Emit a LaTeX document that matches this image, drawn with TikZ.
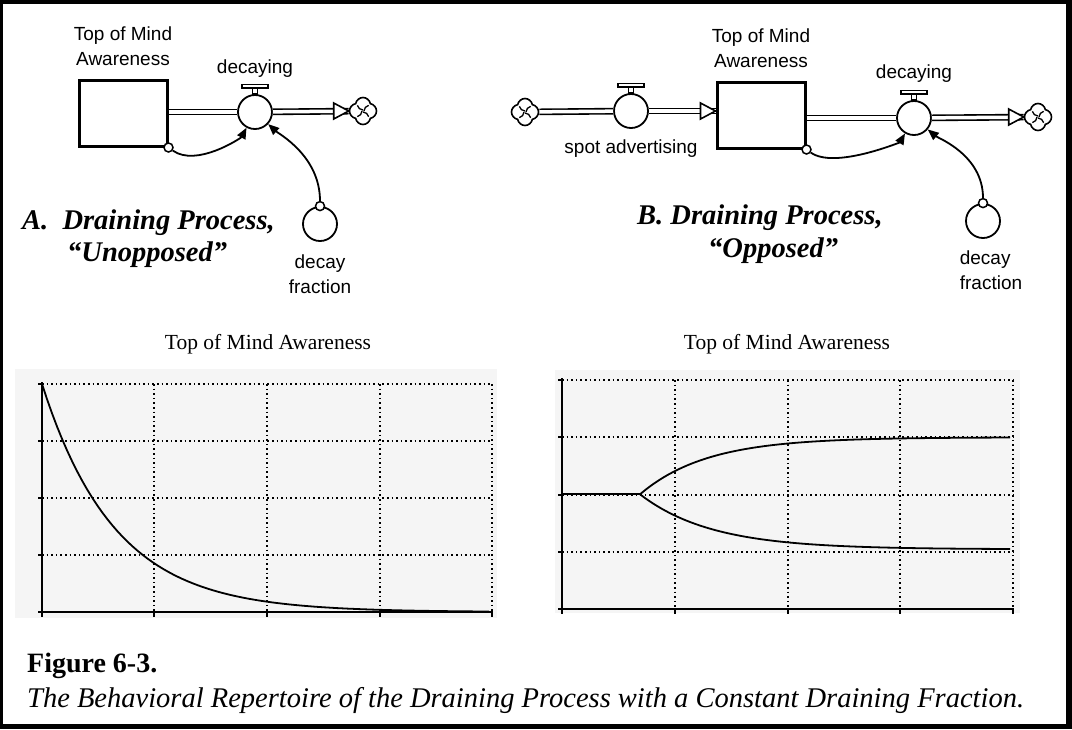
\documentclass[tikz,border=0pt]{standalone}
\usepackage{fontspec}
\setmainfont{Liberation Serif}
\newfontfamily\arialfont{Liberation Sans}
\usetikzlibrary{shapes.symbols,arrows.meta,positioning}
\definecolor{plotbg}{RGB}{245,245,245}

\tikzset{
  stock/.style={rectangle, draw, line width=3pt, minimum width=88pt, minimum height=66pt},
  valve/.style={circle, draw, fill=white, line width=1.8pt, minimum size=34pt, inner sep=0pt},
  conv/.style={circle, draw, line width=1.8pt, minimum size=34pt, inner sep=0pt},
  dot/.style={circle, draw, fill=white, line width=1.5pt, minimum size=9pt, inner sep=0pt},
  sink/.style={cloud, cloud puffs=4, cloud puff arc=160, aspect=1, draw, line width=1.6pt, minimum size=27pt, inner sep=0pt},
  pipe/.style={draw, double, double distance=3.5pt, line width=1.6pt},
  link/.style={draw, line width=1.8pt, -{Triangle[length=11pt,width=9pt]}},
  lbl/.style={font=\arialfont\fontsize{19}{25}\selectfont, align=center, inner sep=0pt},
  ttl/.style={font=\fontsize{28.5}{33}\selectfont\bfseries\itshape, inner sep=0pt},
  ptitle/.style={font=\fontsize{21.5}{25}\selectfont, inner sep=0pt},
  grd/.style={line width=1.6pt, dash pattern=on 1.6pt off 3pt},
  ax/.style={line width=2pt}
}

\begin{document}
\begin{tikzpicture}[x=1pt, y=-1pt]
% frame
\fill[black] (0,0) rectangle (1072,729);
\fill[white] (3,4) rectangle (1066,724);

% --- A: unopposed ---
\node (sA) [stock] at (123,113) {};
\node (vA) [valve] at (255,112) {};
\node (cA) [sink] at (363,111) {};
\node (fA) [conv] at (320,224) {};
\node (dA1) [dot] at (sA.south east) {};
\node (dA2) [dot] at (fA.north) {};
\node (sAl) [lbl, above=13pt of sA] {Top of Mind\\Awareness};
\node (vAl) [lbl, above=16pt of vA] {decaying};
\node (fAl) [lbl, below=13pt of fA] {decay\\fraction};

\draw[pipe] (sA.east |- vA) -- (vA);
\draw[pipe] (vA) -- (cA);
\draw[line width=1.6pt, fill=white] (cA.west) -- ++(-15,-8) -- ++(0,16) -- cycle;
\draw[link] (dA1) .. controls +(28,20) and +(-14,26) .. (vA);
\draw[link] (dA2) .. controls +(0,-50) and +(24,22) .. (vA);

\node (tA) [ttl, anchor=base west] at (22,229) {A.\ \ Draining Process,};
\node (tA2) [ttl, anchor=base west] at (67,261) {``Unopposed''};

% --- B: opposed ---
\node (cB1) [sink] at (525,112) {};
\node (vB1) [valve] at (631,111) {};
\node (sB) [stock] at (761,115) {};
\node (vB2) [valve] at (914,118) {};
\node (cB2) [sink] at (1038,117) {};
\node (fB) [conv] at (983,221) {};
\node (dB1) [dot] at (sB.south east) {};
\node (dB2) [dot] at (fB.north) {};
\coordinate (inB) at (sB.west |- vB1);
\node (vB1l) [lbl, below=11pt of vB1] {spot advertising};
\node (sBl) [lbl, above=13pt of sB] {Top of Mind\\Awareness};
\node (vB2l) [lbl, above=17pt of vB2] {decaying};
\node (fBl) [lbl, align=left, below=12pt of fB, xshift=8pt] {decay\\fraction};

\draw[pipe] (cB1) -- (vB1);
\draw[pipe] (vB1) -- (inB);
\draw[line width=1.6pt, fill=white] (inB) -- ++(-15,-8) -- ++(0,16) -- cycle;
\draw[pipe] (sB.east |- vB2) -- (vB2);
\draw[pipe] (vB2) -- (cB2);
\draw[line width=1.6pt, fill=white] (cB2.west) -- ++(-15,-8) -- ++(0,16) -- cycle;
\draw[link] (dB1) .. controls +(28,20) and +(-14,24) .. (vB2);
\draw[link] (dB2) .. controls +(0,-48) and +(24,20) .. (vB2);

\node (tB) [ttl, anchor=base west] at (637,224) {B. Draining Process,};
\node (tB2) [ttl, anchor=base west] at (708,257) {``Opposed''};

% valve handles and cloud swirls
\foreach \v in {vA,vB1,vB2} {
  \draw[line width=1.4pt] ([xshift=-2.5pt]\v.north) rectangle ([xshift=2.5pt,yshift=6pt]\v.north);
  \draw[line width=1.4pt, fill=white] ([xshift=-13pt,yshift=6pt]\v.north) rectangle ([xshift=13pt,yshift=9.5pt]\v.north);
}
\foreach \c in {cA,cB1,cB2}
  \foreach \a in {0,90,180,270}
    \draw[line width=1.3pt] ([shift={(\a:1pt)}]\c.center) to[bend left=35] ([shift={(\a+45:8pt)}]\c.center);

% --- graph A ---
\node (gA) [ptitle] at (268,344) {Top of Mind Awareness};
\fill[plotbg] (15,369) rectangle (497,618);
\foreach \y in {384,441,498,555}
  \draw[grd] (42,\y) -- (492,\y);
\foreach \x in {154,267,380,492}
  \draw[grd] (\x,384) -- (\x,612);
\draw[ax] (42,382) -- (42,612) -- (493,612);
\foreach \y in {384,441,498,555,612}
  \draw[ax] (38,\y) -- (42,\y);
\foreach \x in {42,154,267,380,492}
  \draw[ax] (\x,612) -- (\x,617);
\draw[line width=1.8pt] plot[domain=42:489, samples=90] (\x,{612-228*exp(-1.55*(\x-42)/112.7)});

% --- graph B ---
\node (gB) [ptitle] at (787,344) {Top of Mind Awareness};
\fill[plotbg] (555,370) rectangle (1020,613);
\foreach \y in {380,437,495,552}
  \draw[grd] (562,\y) -- (1013,\y);
\foreach \x in {675,788,900,1013}
  \draw[grd] (\x,380) -- (\x,609);
\draw[ax] (562,378) -- (562,609) -- (1014,609);
\foreach \y in {380,437,495,552,609}
  \draw[ax] (558,\y) -- (562,\y);
\foreach \x in {562,675,788,900,1013}
  \draw[ax] (\x,609) -- (\x,614);
\draw[line width=1.8pt] (562,494.3) -- (640,494.3);
\draw[line width=1.8pt] plot[domain=640:1010, samples=80] (\x,{494.3-57*(1-exp(-0.015*(\x-640)))});
\draw[line width=1.8pt] plot[domain=640:1010, samples=80] (\x,{494.3+55*(1-exp(-0.014*(\x-640)))});

% caption
\node (cap1) [anchor=base west, inner sep=0pt, font=\fontsize{28}{32}\selectfont\bfseries] at (27,672) {Figure 6-3.};
\node (cap2) [anchor=base west, inner sep=0pt, font=\fontsize{28.5}{32}\selectfont\itshape] at (27,707) {The Behavioral Repertoire of the Draining Process with a Constant Draining Fraction.};
\end{tikzpicture}
\end{document}
